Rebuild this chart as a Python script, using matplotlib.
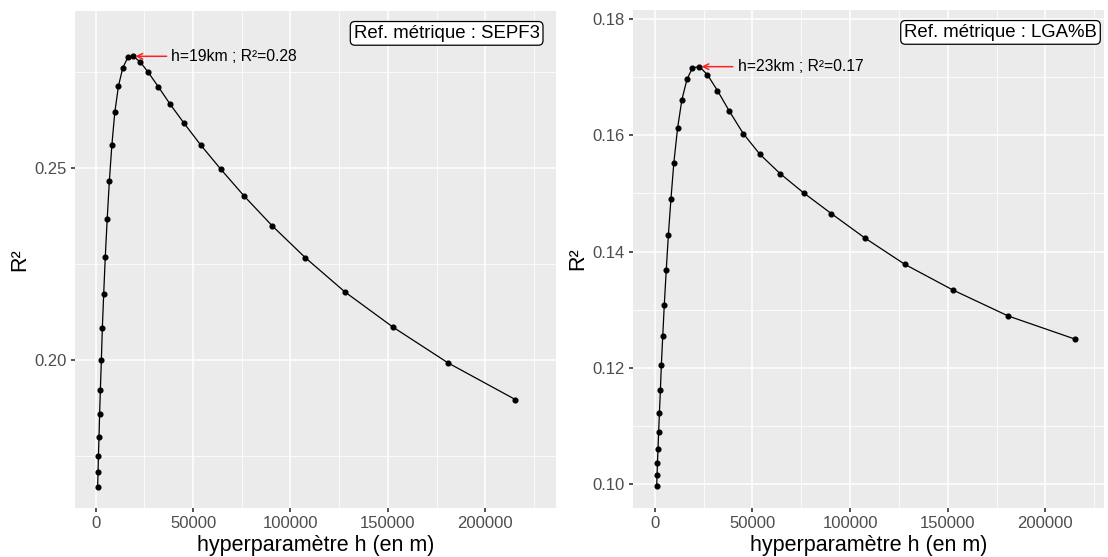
import matplotlib
matplotlib.use("Agg")
import matplotlib.pyplot as plt
from matplotlib.ticker import MultipleLocator, FixedLocator

plt.rcParams['font.family'] = ['Liberation Sans', 'DejaVu Sans']

# ---- data ----
h_values = [1000, 1200, 1400, 1700, 2000, 2400, 2900, 3400, 4100, 4900, 5900,
            7000, 8300, 9800, 11700, 13900, 16500, 19300, 22900, 27000, 32100,
            38100, 45300, 53900, 64200, 76200, 90500, 107700, 128000, 152500,
            181000, 215400]

r2_sepf3 = [0.1671, 0.1708, 0.1751, 0.1801, 0.1859, 0.1924, 0.2000, 0.2083,
            0.2173, 0.2268, 0.2368, 0.2467, 0.2561, 0.2646, 0.2715, 0.2762,
            0.2789, 0.2792, 0.2777, 0.2750, 0.2713, 0.2668, 0.2618, 0.2561,
            0.2498, 0.2428, 0.2351, 0.2267, 0.2178, 0.2087, 0.1993, 0.1898]

r2_lgab = [0.0996, 0.1015, 0.1036, 0.1061, 0.1089, 0.1122, 0.1161, 0.1205,
           0.1254, 0.1308, 0.1368, 0.1429, 0.1490, 0.1553, 0.1612, 0.1661,
           0.1696, 0.1716, 0.1718, 0.1704, 0.1677, 0.1642, 0.1603, 0.1567,
           0.1534, 0.1501, 0.1465, 0.1423, 0.1378, 0.1334, 0.1289, 0.1249]

panel_titles = ["Ref. métrique : SEPF3", "Ref. métrique : LGA%B"]
peak_labels = ["h=19km ; R²=0.28", "h=23km ; R²=0.17"]
x_ticks = [0, 50000, 100000, 150000, 200000]
y_ticks_left = [0.20, 0.25]
y_ticks_right = [0.10, 0.12, 0.14, 0.16, 0.18]

W, H = 1108, 557
fig = plt.figure(figsize=(W / 100, H / 100), dpi=100)

def px_axes(l, r, t, b):
    return fig.add_axes([l / W, (H - b) / H, (r - l) / W, (b - t) / H])

ax1 = px_axes(75, 556, 11, 508)
ax2 = px_axes(633, 1104, 10, 508)

configs = [
    (ax1, r2_sepf3, panel_titles[0], peak_labels[0], y_ticks_left, 0.025,
     (-10630, 236300), (0.16154, 0.2910), 0.966),
    (ax2, r2_lgab, panel_titles[1], peak_labels[1], y_ticks_right, 0.01,
     (-11117, 230000), (0.09587, 0.18155), 0.985),
]

for ax, ys, title, plabel, yt, yminor, xl, yl, bx in configs:
    ax.set_facecolor('#EBEBEB')
    ax.plot(h_values, ys, color='black', lw=0.9, marker='o', ms=3.4,
            zorder=3)
    ax.set_xlim(*xl)
    ax.set_ylim(*yl)
    ax.xaxis.set_major_locator(FixedLocator(x_ticks))
    ax.xaxis.set_minor_locator(FixedLocator([-25000, 25000, 75000, 125000,
                                             175000, 225000]))
    ax.yaxis.set_major_locator(FixedLocator(yt))
    ax.yaxis.set_minor_locator(MultipleLocator(yminor))
    ax.set_xticklabels([str(v) for v in x_ticks])
    ax.set_yticklabels([f"{v:.2f}" for v in yt])
    ax.grid(which='major', color='white', lw=1.1)
    ax.grid(which='minor', color='white', lw=0.55)
    ax.set_axisbelow(True)
    for s in ax.spines.values():
        s.set_visible(False)
    ax.tick_params(which='major', length=3, width=1.2, color='#333333',
                   labelsize=12, labelcolor='#4D4D4D', pad=3)
    ax.tick_params(which='minor', length=0)
    ax.set_xlabel("hyperparamètre h (en m)", fontsize=15.5, color='black',
                  labelpad=3)
    ax.set_ylabel("R²", fontsize=15.5, color='black', labelpad=3)

    # title label box
    ax.text(bx, 0.955, title, transform=ax.transAxes, ha='right',
            va='center', fontsize=13.4, color='black',
            bbox=dict(boxstyle='round,pad=0.18,rounding_size=0.25',
                      fc='white', ec='black', lw=0.9))

    # peak annotation
    i = max(range(len(ys)), key=lambda k: ys[k])
    px, py = h_values[i], ys[i]
    ax.annotate("", xy=(px, py), xytext=(24, 0), textcoords='offset points',
                arrowprops=dict(arrowstyle='->', color='#FF2020', lw=1.1,
                                shrinkA=0, shrinkB=1.5,
                                mutation_scale=10))
    ax.annotate(plabel, xy=(px, py), xytext=(27.5, 0),
                textcoords='offset points', ha='left', va='center',
                fontsize=11.3, color='black')

fig.savefig("out.png", dpi=100)
